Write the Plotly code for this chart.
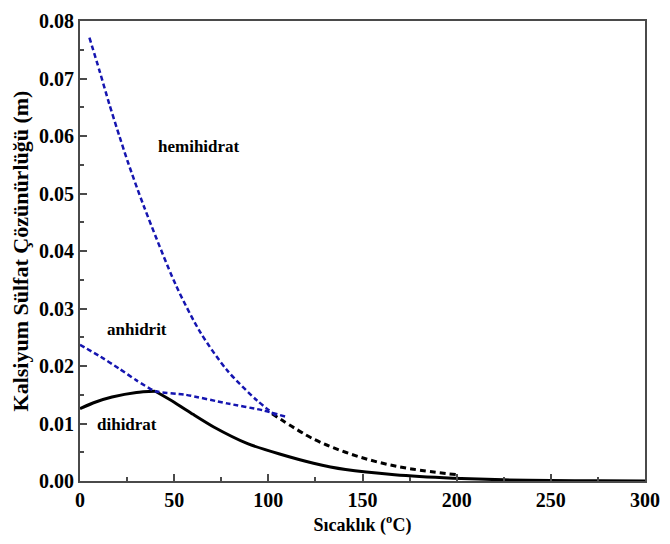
import plotly.graph_objects as go

# Dihidrat (solid black): rising branch and falling branch meet at the peak
dih_rise_T = [0, 8, 17, 30, 40]
dih_rise_v = [0.0126, 0.0137, 0.0146, 0.0154, 0.0156]
dih_fall_T = [40, 50, 60, 71, 89, 106, 124, 141, 167, 198, 225, 250, 275, 300]
dih_fall_v = [0.0156, 0.0137, 0.0116, 0.0094, 0.0065, 0.0047, 0.0031, 0.0020, 0.0011, 0.0005, 0.0002, 0.0001, 0.00003, 0.0]

# Anhidrit (blue dashed)
anh_T = [0, 10, 21, 30, 40, 56, 78, 97, 109]
anh_v = [0.0237, 0.0218, 0.0195, 0.0175, 0.0156, 0.0150, 0.0135, 0.0123, 0.0112]

# Hemihidrat (blue dashed)
hem_T = [5, 10.4, 15.6, 21, 25.6, 34, 51, 64, 78, 94, 104]
hem_v = [0.0771, 0.0713, 0.0655, 0.0599, 0.0553, 0.0477, 0.0340, 0.0258, 0.0193, 0.0140, 0.0114]

# Hemihidrat continuation (black dashed)
hem2_T = [102, 124, 141, 158, 176, 200]
hem2_v = [0.0117, 0.0073, 0.0050, 0.0033, 0.0021, 0.0011]

xticks = [0, 50, 100, 150, 200, 250, 300]
xtick_labels = ["0", "50", "100", "150", "200", "250", "300"]
yticks = [0.00, 0.01, 0.02, 0.03, 0.04, 0.05, 0.06, 0.07, 0.08]
ytick_labels = ["0.00", "0.01", "0.02", "0.03", "0.04", "0.05", "0.06", "0.07", "0.08"]

BLUE = "#1515b0"
FONT = "'Liberation Serif', 'Times New Roman', serif"

fig = go.Figure()
fig.add_trace(go.Scatter(x=dih_rise_T, y=dih_rise_v, mode="lines", line=dict(color="black", width=3, shape="spline", smoothing=0.6), showlegend=False))
fig.add_trace(go.Scatter(x=dih_fall_T, y=dih_fall_v, mode="lines", line=dict(color="black", width=3, shape="spline", smoothing=0.6), showlegend=False))
fig.add_trace(go.Scatter(x=hem2_T, y=hem2_v, mode="lines", line=dict(color="black", width=3, dash="6px,4px", shape="spline"), showlegend=False))
fig.add_trace(go.Scatter(x=anh_T, y=anh_v, mode="lines", line=dict(color=BLUE, width=2.5, dash="5px,3px", shape="spline", smoothing=0.5), showlegend=False))
fig.add_trace(go.Scatter(x=hem_T, y=hem_v, mode="lines", line=dict(color=BLUE, width=2.5, dash="5px,3px", shape="spline", smoothing=0.8), showlegend=False))

lab_font = dict(family=FONT, size=17, color="black")
fig.add_annotation(x=63, y=0.0581, text="<b>hemihidrat</b>", showarrow=False, font=lab_font, bgcolor="white")
fig.add_annotation(x=30, y=0.0263, text="<b>anhidrit</b>", showarrow=False, font=lab_font)
fig.add_annotation(x=25, y=0.0099, text="<b>dihidrat</b>", showarrow=False, font=lab_font)

axcol = "#4a4a4a"
tickfont = dict(family=FONT, size=20, color="black")
fig.update_xaxes(range=[0, 300], tickvals=xticks, ticktext=["<b>%s</b>" % t for t in xtick_labels],
                 ticks="inside", ticklen=7, tickwidth=1.5, tickcolor=axcol,
                 minor=dict(dtick=25, ticks="inside", ticklen=4, tickcolor=axcol, tickwidth=1.5),
                 showline=True, linecolor=axcol, linewidth=2, mirror=True, showgrid=False, zeroline=False,
                 tickfont=tickfont,
                 title=dict(text="<b>Sıcaklık (<sup>o</sup>C)</b>", font=dict(family=FONT, size=18, color="black"), standoff=8))
fig.update_yaxes(range=[0, 0.08], tickvals=yticks, ticktext=["<b>%s</b>" % t for t in ytick_labels],
                 ticks="inside", ticklen=7, tickwidth=1.5, tickcolor=axcol,
                 minor=dict(dtick=0.005, ticks="inside", ticklen=4, tickcolor=axcol, tickwidth=1.5),
                 showline=True, linecolor=axcol, linewidth=2, mirror=True, showgrid=False, zeroline=False,
                 tickfont=tickfont,
                 title=dict(text="<b>Kalsiyum Sülfat Çözünürlüğü (m)</b>", font=dict(family=FONT, size=22, color="black"), standoff=4))
fig.update_layout(width=670, height=544, margin=dict(l=80, r=15, t=10, b=63),
                  plot_bgcolor="white", paper_bgcolor="white")
fig.write_html("out.html")
